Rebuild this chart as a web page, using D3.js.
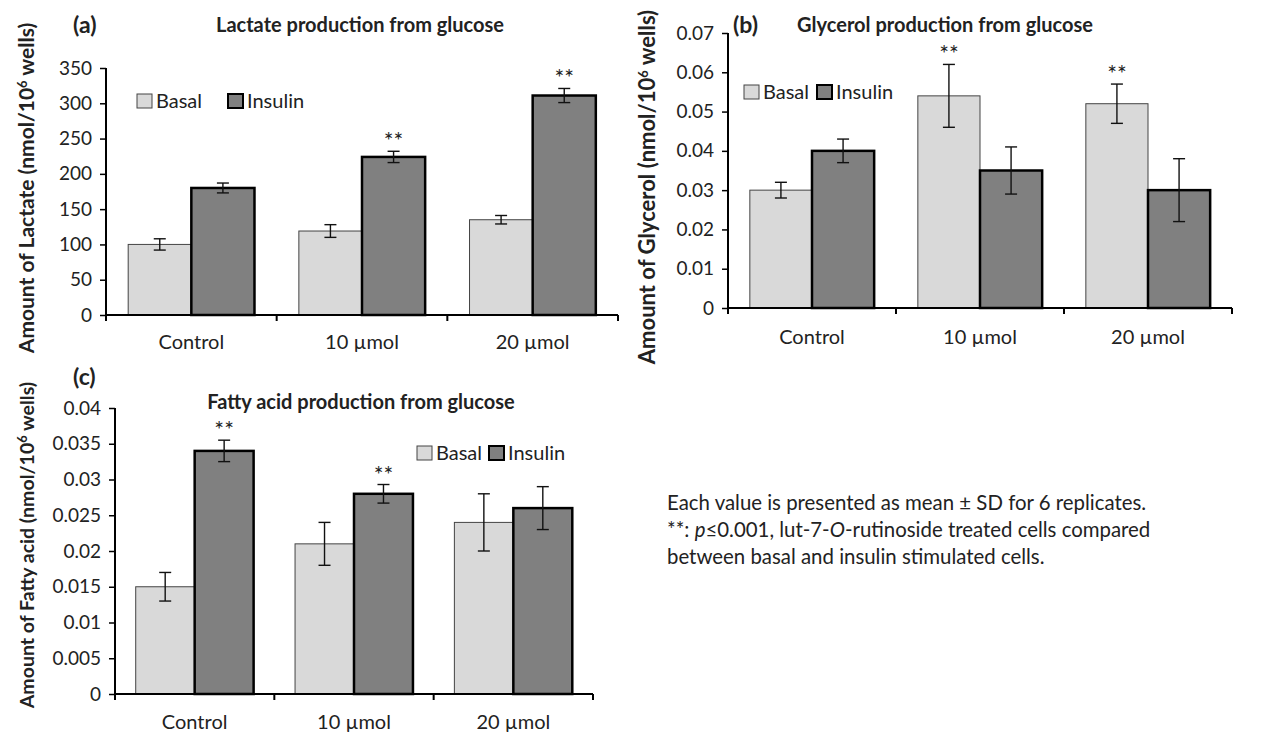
<!DOCTYPE html>
<html>
<head>
<meta charset="utf-8">
<script src="https://cdn.jsdelivr.net/npm/d3@7"></script>
<style>
  body { margin: 0; background: #fff; }
  svg text { font-family: Lato, "Noto Sans", sans-serif; fill: #222; }
</style>
</head>
<body>
<script>
(() => {

    // categories and series
    var categories = ["Control", "10 µmol", "20 µmol"];
    var series = ["Basal", "Insulin"];

    // (a) lactate
    var lactateBasal = [100, 119, 135],
        lactateBasalSD = [8, 9, 6],
        lactateInsulin = [180, 224, 311],
        lactateInsulinSD = [7, 8, 10],
        lactateStars = [[], ["Insulin"], ["Insulin"]],
        lactateTicks = [0, 50, 100, 150, 200, 250, 300, 350];

    // (b) glycerol
    var glycerolBasal = [0.030, 0.054, 0.052],
        glycerolBasalSD = [0.002, 0.008, 0.005],
        glycerolInsulin = [0.040, 0.035, 0.030],
        glycerolInsulinSD = [0.003, 0.006, 0.008],
        glycerolStars = [[], ["Basal"], ["Basal"]],
        glycerolTicks = [0, 0.01, 0.02, 0.03, 0.04, 0.05, 0.06, 0.07];

    // (c) fatty acid
    var fattyBasal = [0.015, 0.021, 0.024],
        fattyBasalSD = [0.002, 0.003, 0.004],
        fattyInsulin = [0.034, 0.028, 0.026],
        fattyInsulinSD = [0.0015, 0.0013, 0.003],
        fattyStars = [["Insulin"], ["Insulin"], []],
        fattyTicks = [0, 0.005, 0.01, 0.015, 0.02, 0.025, 0.03, 0.035, 0.04];

    var fill = { Basal: "#d9d9d9", Insulin: "#808080" };
    var stroke = { Basal: "#444", Insulin: "#000" };
    var strokeW = { Basal: 1, Insulin: 2.5 };

    var svg = d3.select("body").append("svg")
        .attr("width", 1263).attr("height", 732);

    // builds one panel
    function panel(o) {
        var g = svg.append("g").attr("transform", "translate(" + [o.left, o.top] + ")");
        var w = o.right - o.left, h = o.bottom - o.top;

        var x0 = d3.scaleBand().domain(categories).range([0, w]);
        var bw = x0.bandwidth();
        var x1 = d3.scaleBand().domain(series).range([bw * 0.13, bw * 0.87]);
        var y = d3.scaleLinear().domain([0, d3.max(o.ticks)]).range([h, 0]);

        var rows = [];
        categories.forEach((c, i) => {
            rows.push({ cat: c, s: "Basal", v: o.basal[i], sd: o.basalSD[i], star: o.stars[i].indexOf("Basal") >= 0 });
            rows.push({ cat: c, s: "Insulin", v: o.insulin[i], sd: o.insulinSD[i], star: o.stars[i].indexOf("Insulin") >= 0 });
        });

        // bars
        g.selectAll(".bar").data(rows).enter().append("rect")
            .attr("class", "bar")
            .attr("x", d => x0(d.cat) + x1(d.s))
            .attr("y", d => y(d.v))
            .attr("width", x1.bandwidth())
            .attr("height", d => y(0) - y(d.v))
            .attr("fill", d => fill[d.s])
            .attr("stroke", d => stroke[d.s])
            .attr("stroke-width", d => strokeW[d.s]);

        // error bars
        var err = g.selectAll(".err").data(rows).enter().append("g").attr("class", "err")
            .attr("transform", d => "translate(" + (x0(d.cat) + x1(d.s) + x1.bandwidth() / 2) + ",0)")
            .attr("stroke", "#111").attr("stroke-width", 1.4);
        err.append("line").attr("y1", d => y(d.v - d.sd)).attr("y2", d => y(d.v + d.sd));
        err.append("line").attr("x1", -6).attr("x2", 6).attr("y1", d => y(d.v - d.sd)).attr("y2", d => y(d.v - d.sd));
        err.append("line").attr("x1", -6).attr("x2", 6).attr("y1", d => y(d.v + d.sd)).attr("y2", d => y(d.v + d.sd));

        // stars
        g.selectAll(".star").data(rows.filter(d => d.star)).enter().append("text")
            .attr("x", d => x0(d.cat) + x1(d.s) + x1.bandwidth() / 2)
            .attr("y", d => y(d.v + d.sd) - 2)
            .attr("text-anchor", "middle")
            .style("font-size", "23px").attr("fill", "#333")
            .text("**");

        // y axis
        var ya = g.append("g").call(d3.axisLeft(y).tickValues(o.ticks).tickSize(6).tickPadding(8)
            .tickFormat(d => String(+d.toFixed(4))));
        ya.select(".domain").attr("stroke", "#000").attr("stroke-width", 2).attr("d", "M0," + (h + 1) + "V0");
        ya.selectAll(".tick line").attr("stroke", "#000").attr("stroke-width", 1.5);
        ya.selectAll(".tick text").style("font-size", "19px").attr("fill", "#222");

        // x axis
        g.append("line").attr("x1", 0).attr("x2", w).attr("y1", h).attr("y2", h)
            .attr("stroke", "#000").attr("stroke-width", 2);
        var bounds = [0, 1, 2, 3].map(i => i * x0.step());
        g.selectAll(".xt").data(bounds).enter().append("line")
            .attr("x1", d => d).attr("x2", d => d).attr("y1", h).attr("y2", h + 6)
            .attr("stroke", "#000").attr("stroke-width", 2);
        g.selectAll(".xl").data(categories).enter().append("text")
            .attr("x", d => x0(d) + bw / 2).attr("y", h + o.labelDy)
            .attr("text-anchor", "middle").style("font-size", "20px")
            .text(d => d);

        // y label
        var yl = svg.append("text")
            .attr("transform", "translate(" + [o.ylabX, o.ylabY] + ")rotate(-90)")
            .attr("text-anchor", "middle")
            .style("font-size", o.ylabSize + "px").style("font-weight", "bold").attr("fill", "#111");
        yl.append("tspan").text(o.ylab);
        yl.append("tspan").attr("dy", -7).style("font-size", "13px").text("6");
        yl.append("tspan").attr("dy", 7).text(" wells)");

        // title and tag
        svg.append("text").attr("x", o.titleX).attr("y", o.titleY).attr("text-anchor", "middle")
            .style("font-size", "20px").style("font-weight", "bold").attr("fill", "#111").text(o.title);
        svg.append("text").attr("x", o.tagX).attr("y", o.tagY)
            .style("font-size", "23px").style("font-weight", "bold").attr("fill", "#111").text(o.tag);

        // legend
        var lg = svg.append("g").attr("transform", "translate(" + [o.legX, o.legY] + ")");
        series.forEach((s, i) => {
            var lx = o.legGap[i];
            lg.append("rect").attr("x", lx).attr("y", -7).attr("width", 15).attr("height", 14)
                .attr("fill", fill[s]).attr("stroke", stroke[s]).attr("stroke-width", s == "Insulin" ? 2 : 1);
            lg.append("text").attr("x", lx + 19).attr("y", 7).style("font-size", "20px").text(s);
        });
    }

    panel({
        left: 106, top: 68, right: 618, bottom: 315,
        basal: lactateBasal, basalSD: lactateBasalSD, insulin: lactateInsulin, insulinSD: lactateInsulinSD,
        stars: lactateStars, ticks: lactateTicks, labelDy: 34,
        ylab: "Amount of Lactate (nmol/10", ylabX: 34, ylabY: 188, ylabSize: 21,
        title: "Lactate production from glucose", titleX: 360, titleY: 32,
        tag: "(a)", tagX: 73, tagY: 33,
        legX: 137, legY: 101, legGap: [0, 91]
    });

    panel({
        left: 728, top: 33, right: 1232, bottom: 308,
        basal: glycerolBasal, basalSD: glycerolBasalSD, insulin: glycerolInsulin, insulinSD: glycerolInsulinSD,
        stars: glycerolStars, ticks: glycerolTicks, labelDy: 36,
        ylab: "Amount of Glycerol  (nmol/10", ylabX: 655, ylabY: 187, ylabSize: 22,
        title: "Glycerol production from glucose", titleX: 945, titleY: 32,
        tag: "(b)", tagX: 733, tagY: 33,
        legX: 744, legY: 92, legGap: [0, 73]
    });

    panel({
        left: 115, top: 408, right: 593, bottom: 694,
        basal: fattyBasal, basalSD: fattyBasalSD, insulin: fattyInsulin, insulinSD: fattyInsulinSD,
        stars: fattyStars, ticks: fattyTicks, labelDy: 35,
        ylab: "Amount of Fatty acid (nmol/10", ylabX: 34, ylabY: 545, ylabSize: 19.5,
        title: "Fatty acid production from glucose", titleX: 361, titleY: 409,
        tag: "(c)", tagX: 73, tagY: 385,
        legX: 417, legY: 453, legGap: [0, 72]
    });

    // note
    var note = svg.append("g").style("font-size", "20.4px");
    note.append("text").attr("x", 667).attr("y", 510).text("Each value is presented as mean ± SD for 6 replicates.");
    var l2 = note.append("text").attr("x", 667).attr("y", 537);
    l2.append("tspan").text("**: ");
    l2.append("tspan").style("font-style", "italic").text("p");
    l2.append("tspan").text("≤0.001, lut-7-");
    l2.append("tspan").style("font-style", "italic").text("O");
    l2.append("tspan").text("-rutinoside treated cells compared");
    note.append("text").attr("x", 667).attr("y", 564).text("between basal and insulin stimulated cells.");

})()
</script>
</body>
</html>
